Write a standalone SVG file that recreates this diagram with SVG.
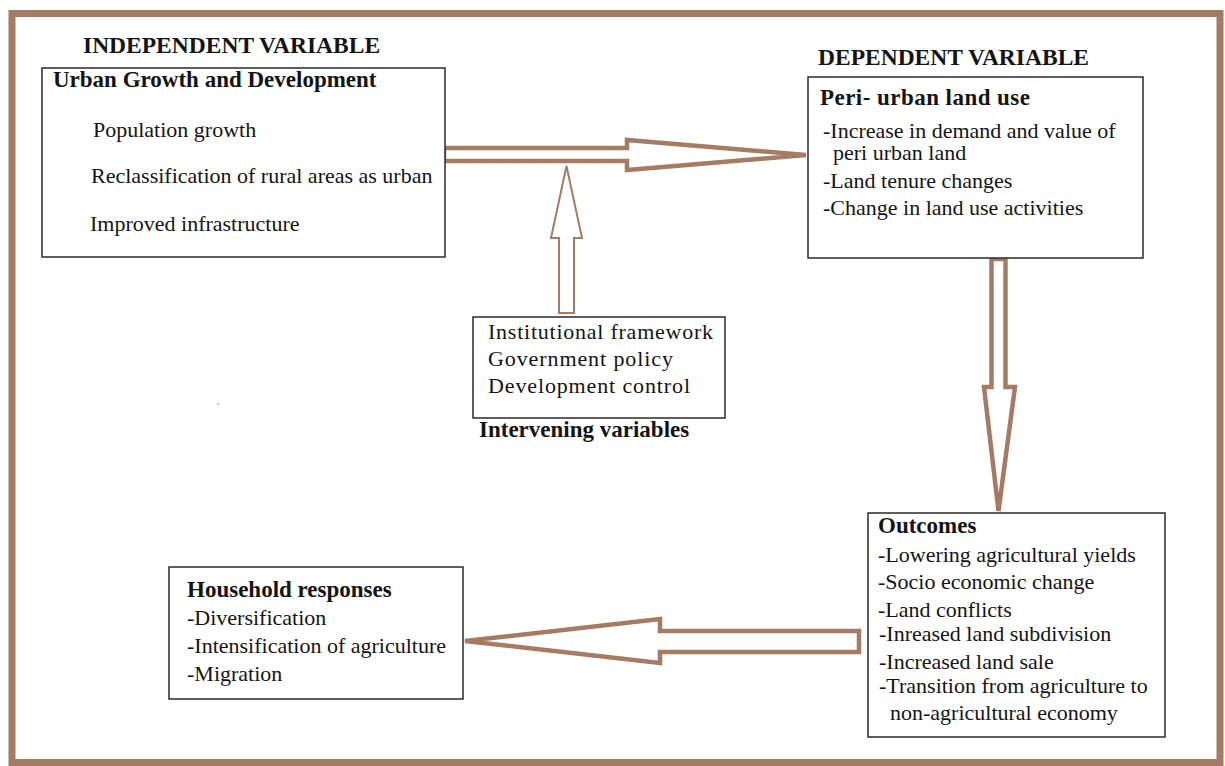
<svg xmlns="http://www.w3.org/2000/svg" width="1225" height="766" viewBox="0 0 1225 766">
<style>
  text { font-family: "Liberation Serif", "Times New Roman", serif; fill: #141414; }
  .t { font-size: 22px; }
  .b { font-size: 23px; font-weight: bold; }
  .h { font-size: 23.5px; font-weight: bold; }
  .box { fill: #ffffff; stroke: #2a2a2a; stroke-width: 1.5; }
  .arr { fill: #ffffff; stroke: #a57b63; stroke-width: 4.5; stroke-linejoin: miter; }
  .arr-thin { fill: #ffffff; stroke: #a57b63; stroke-width: 2; stroke-linejoin: miter; }
</style>
<rect x="0" y="0" width="1225" height="766" fill="#ffffff"/>
<rect id="frame" x="12" y="13.5" width="1208" height="749" fill="none" stroke="#a57b63" stroke-width="7"/>

<g id="connectors">
  <path class="arr" d="M444,148 L627,148 L627,140 L806,155 L627,170 L627,161 L444,161 Z"/>
  <path class="arr-thin" d="M559,313 L559,238 L551,238 L566.5,166 L582,238 L574,238 L574,313 Z"/>
  <path class="arr" d="M991.5,259 L1005.5,259 L1005.5,387 L1015,387 L998.5,511 L984,387 L991.5,387 Z"/>
  <path class="arr" d="M859,631 L859,652 L660,652 L660,663 L465,641 L660,619 L660,631 Z"/>
</g>

<g id="independent">
  <text class="h" x="83" y="53">INDEPENDENT VARIABLE</text>
  <rect class="box" x="42" y="68" width="403" height="189"/>
  <text class="b" x="53" y="87">Urban Growth and Development</text>
  <text class="t" x="93" y="137">Population growth</text>
  <text class="t" x="91" y="183">Reclassification of rural areas as urban</text>
  <text class="t" x="90" y="231">Improved infrastructure</text>
</g>

<g id="dependent">
  <text class="h" x="818" y="65">DEPENDENT VARIABLE</text>
  <rect class="box" x="808" y="77" width="335" height="181"/>
  <text class="b" x="820" y="105" textLength="210" lengthAdjust="spacing">Peri- urban land use</text>
  <text class="t" x="823" y="138">-Increase in demand and value of</text>
  <text class="t" x="833" y="160">peri urban land</text>
  <text class="t" x="823" y="188">-Land tenure changes</text>
  <text class="t" x="823" y="215">-Change in land use activities</text>
</g>

<g id="intervening">
  <rect class="box" x="473" y="317" width="252" height="101"/>
  <text class="t" x="488" y="339" textLength="225" lengthAdjust="spacing">Institutional framework</text>
  <text class="t" x="488" y="366" textLength="185" lengthAdjust="spacing">Government policy</text>
  <text class="t" x="488" y="393" textLength="202" lengthAdjust="spacing">Development control</text>
  <text class="b" x="479" y="437">Intervening variables</text>
</g>

<g id="outcomes">
  <rect class="box" x="868" y="513" width="297" height="224"/>
  <text class="b" x="878" y="533">Outcomes</text>
  <text class="t" x="878" y="562">-Lowering agricultural yields</text>
  <text class="t" x="878" y="589">-Socio economic change</text>
  <text class="t" x="878" y="617">-Land conflicts</text>
  <text class="t" x="879" y="641">-Inreased land subdivision</text>
  <text class="t" x="879" y="669">-Increased land sale</text>
  <text class="t" x="879" y="693">-Transition from agriculture to</text>
  <text class="t" x="890" y="720">non-agricultural economy</text>
</g>

<g id="household">
  <rect class="box" x="169" y="567" width="294" height="132"/>
  <text class="b" x="187" y="597">Household responses</text>
  <text class="t" x="187" y="625">-Diversification</text>
  <text class="t" x="187" y="653">-Intensification of agriculture</text>
  <text class="t" x="187" y="681">-Migration</text>
</g>

<circle id="stray-mark" cx="218" cy="404" r="0.8" fill="#888888"/>
</svg>
